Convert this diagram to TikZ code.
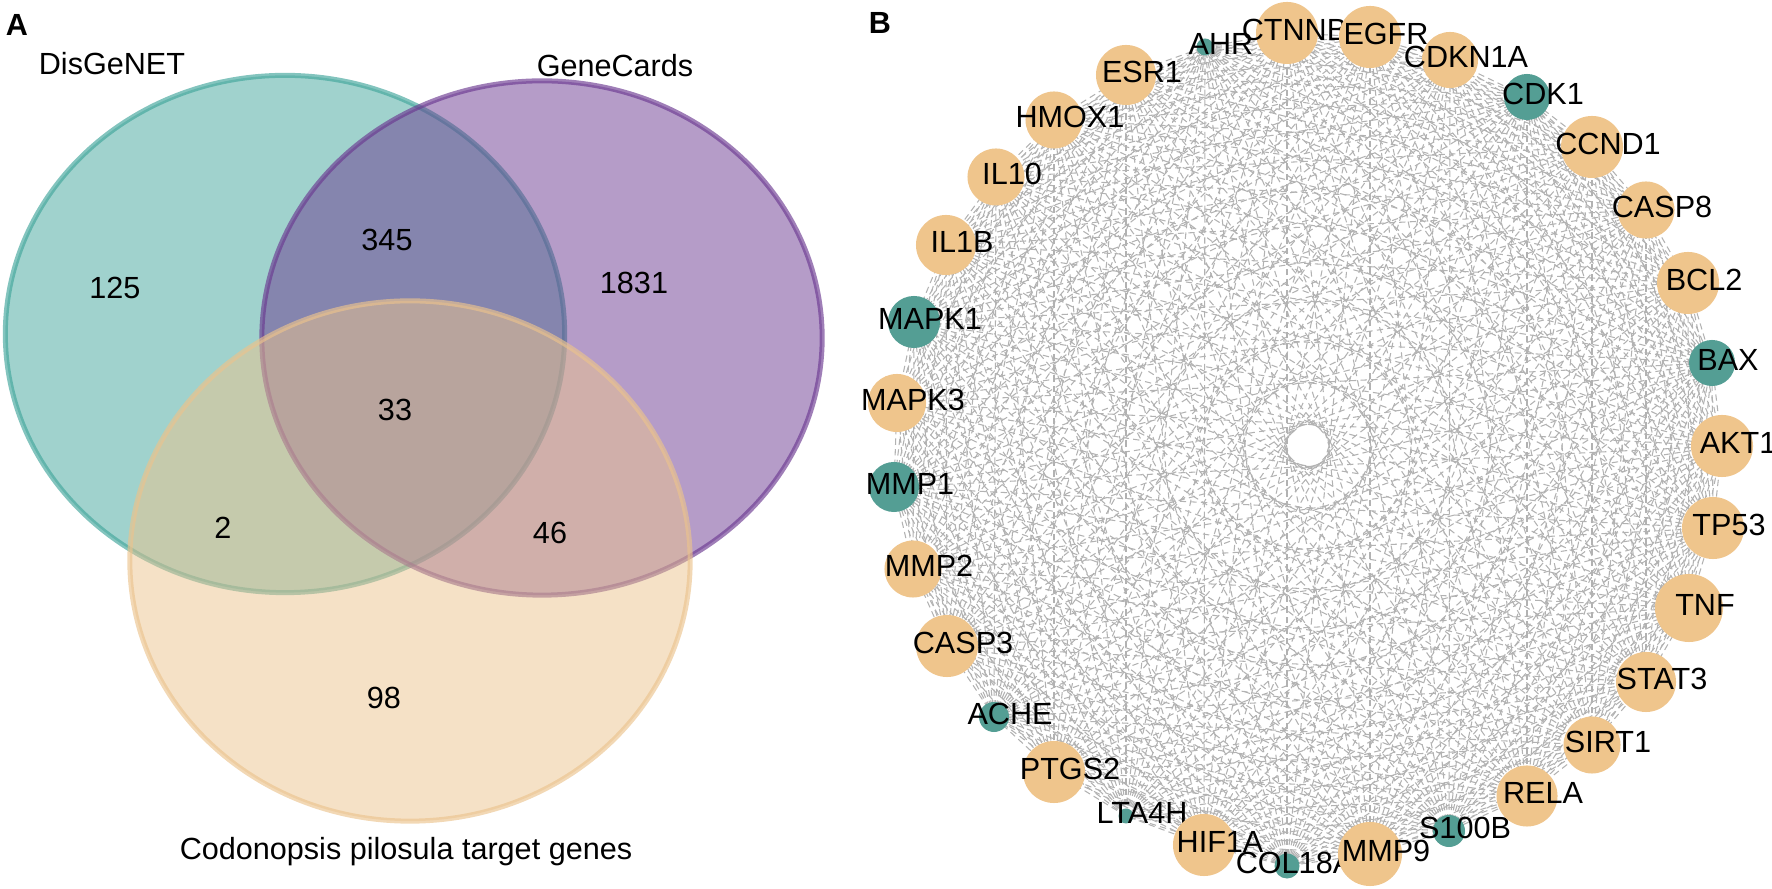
\documentclass[tikz,border=0pt]{standalone}
\usepackage{fontspec}
\setmainfont{Liberation Sans}

\pgfdeclarelayer{bg}
\pgfsetlayers{bg,main}

\definecolor{vteal}{RGB}{65,165,155}
\definecolor{vpurple}{RGB}{107,57,145}
\definecolor{vorange}{RGB}{235,195,141}
\definecolor{hubcol}{RGB}{239,197,140}
\definecolor{leafcol}{RGB}{84,158,148}

\tikzset{
  venn/.style={fill=#1, fill opacity=0.5, draw=#1, draw opacity=0.65, line width=0.05cm},
  hub/.style={circle, fill=hubcol, inner sep=0pt},
  leaf/.style={circle, fill=leafcol, inner sep=0pt},
  link/.style={draw=gray!60, line width=0.3pt, dash pattern=on 1.8pt off 1.2pt},
  panel/.style={font=\fontsize{8.7pt}{10pt}\selectfont\bfseries},
}

\begin{document}
\begin{tikzpicture}[x=0.01cm, y=-0.01cm,
    every node/.style={font=\fontsize{8.7pt}{10pt}\selectfont}]
  \useasboundingbox (0,0) rectangle (1772,889);

  % A: Venn
  \draw[venn=vteal] (285,334) ellipse [x radius=2.795cm, y radius=2.585cm];
  \draw[venn=vpurple] (542,338) ellipse [x radius=2.80cm, y radius=2.57cm];
  \draw[venn=vorange] (410,561) ellipse [x radius=2.80cm, y radius=2.60cm];

  \node[panel] (pa) at (17,25) {A};
  \node (dis) at (112,64) {DisGeNET};
  \node (gc) at (615,66) {GeneCards};
  \node (cp) at (406,852) {Codonopsis pilosula target genes};

  \node (v125) at (115,288) {125};
  \node (v345) at (387,240) {345};
  \node (v1831) at (634,283) {1831};
  \node (v33) at (395,410) {33};
  \node (v2) at (223,528) {2};
  \node (v46) at (550,533) {46};
  \node (v98) at (384,698) {98};

  % B: network
  \node[panel] (pb) at (880,23) {B};
  \foreach \nm/\x/\y/\r/\kind [count=\i] in {
      AKT1/1722/446/31/hub, BAX/1712/363/23/leaf, BCL2/1688/283/31/hub,
      CASP8/1646/210/28.5/hub, CCND1/1592/147/31/hub, CDK1/1527/97/23/leaf,
      CDKN1A/1450/60/28/hub, CTNNB1/1287/33/31/hub, EGFR/1370/37/31/hub,
      AHR/1205/47/8.5/leaf, ESR1/1126/75/30/hub, HMOX1/1054/120/28.5/hub,
      IL10/996/177/28.5/hub, IL1B/946/245/30/hub, MAPK1/914/322/26/leaf,
      MAPK3/897/403/29/hub, MMP1/894/487/25/leaf, MMP2/913/569/28.5/hub,
      CASP3/947/646/31/hub, ACHE/994/717/15/leaf, PTGS2/1054/772/31/hub,
      LTA4H/1126/816/7.5/leaf, HIF1A/1204/845/31/hub, COL18A1/1287/866/12.5/leaf,
      MMP9/1370/854/32/hub, S100B/1449/831/16/leaf, RELA/1527/796/30.5/hub,
      SIRT1/1592/745/28.5/hub, STAT3/1646/682/30/hub, TNF/1689/608/34/hub,
      TP53/1713/528/31/hub}
    \node[\kind, minimum size=\r*0.02cm,
          label={[xshift=0.16cm, yshift=0.03cm]center:\nm}] (g\i) at (\x,\y) {};

  \begin{pgfonlayer}{bg}
    \foreach \i in {2,...,31} {
      \pgfmathtruncatemacro\prev{\i-1}
      \foreach \j in {1,...,\prev}
        \draw[link] (g\i.center) -- (g\j.center);
    }
  \end{pgfonlayer}
\end{tikzpicture}
\end{document}
